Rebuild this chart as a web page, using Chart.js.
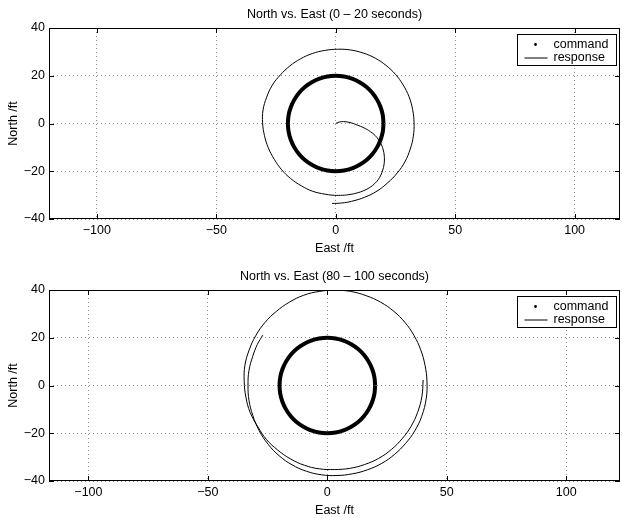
<!DOCTYPE html>
<html lang="en">
<head>
<meta charset="UTF-8">
<title>North vs. East</title>
<script src="https://cdn.jsdelivr.net/npm/chart.js@4.4.1/dist/chart.umd.min.js"></script>
<style>
    body { margin: 0; background: #fff; width: 622px; height: 518px; position: relative; overflow: hidden; }
    canvas { position: absolute; left: 0; }
    #topPlot { top: 0; }
    #bottomPlot { top: 262px; }
</style>
</head>
<body>
<canvas id="topPlot" width="622" height="256"></canvas>
<canvas id="bottomPlot" width="622" height="256"></canvas>
<script>
// tick labels
const xTicks = [-100, -50, 0, 50, 100];
const yTicks = [-40, -20, 0, 20, 40];

// command: the 20 ft circle (same in both plots)
const commandEast = [20, 19.7, 18.8, 17.3, 15.3, 12.9, 10, 6.8, 3.5, 0, -3.5, -6.8, -10, -12.9, -15.3, -17.3, -18.8, -19.7,
    -20, -19.7, -18.8, -17.3, -15.3, -12.9, -10, -6.8, -3.5, 0, 3.5, 6.8, 10, 12.9, 15.3, 17.3, 18.8, 19.7, 20];
const commandNorth = [0, 3.5, 6.8, 10, 12.9, 15.3, 17.3, 18.8, 19.7, 20, 19.7, 18.8, 17.3, 15.3, 12.9, 10, 6.8, 3.5,
    0, -3.5, -6.8, -10, -12.9, -15.3, -17.3, -18.8, -19.7, -20, -19.7, -18.8, -17.3, -15.3, -12.9, -10, -6.8, -3.5, 0];

// response, 0 - 20 s
const resp1East = [0, 1.5, 3.3, 6, 8.9, 11.8, 14.5, 16.5, 18, 19.2, 19.9, 20.3, 20.4, 20.2, 19.7, 18.9, 17.8, 16.3, 14.3, 11.8,
    8.9, 5.5, 2, -1.5, -4.5, -9.6, -14.4, -18.8, -22.6, -25.7, -28.2, -29.8, -30.6, -30.4, -28.9, -26.5, -23.1, -19.2, -14.7, -9.8,
    -4.6, 0.8, 6.2, 11.5, 16.5, 21.1, 25, 28.2, 30.7, 32.2, 32.8, 32.5, 31.2, 29, 25.8, 21.8, 17.3, 12.1, 6.6, 2.5, -1.5];
const resp1North = [0, 0.6, 0.8, 0.4, -0.6, -1.8, -3.4, -5, -6.9, -9, -11.1, -13.2, -15.3, -17.4, -19.5, -21.6, -23.5, -25.2, -26.8, -28.1,
    -29.1, -29.8, -30.1, -30, -29.6, -28.4, -26.1, -23.1, -19.4, -15, -10.2, -5.1, 0.3, 5.7, 11, 16.1, 20.4, 24.1, 27.1, 29.3,
    30.6, 31.1, 30.8, 29.5, 27.4, 24.3, 20.6, 16.2, 11.2, 5.8, 0.3, -5.3, -10.7, -16, -20.7, -24.8, -28.3, -30.9, -32.6, -33.3, -33.5];

// response, 80 - 100 s
const resp2East = [40.1, 39.6, 37.8, 35, 31.3, 26.8, 21.5, 15.6, 9.4, 3, -3.4, -9.6, -15.5, -20.8, -25.5, -29, -32.3, -34.1, -34.8, -34.5,
    -32.7, -30, -26.1, -21.4, -15.9, -9.9, -3.4, 3.2, 9.8, 16.3, 22.3, 27.8, 32.5, 36.3, 39.1, 40.9, 41.7, 41.4, 39.5, 36.6,
    32.8, 28.2, 22.8, 16.8, 10.5, 4, -2.5, -8.8, -14.8, -20.2, -24.8, -28.6, -31.2, -32.8, -33.2, -32.8, -31.2, -29.3, -27];
const resp2North = [2.3, -4.5, -11.2, -17.2, -22.3, -26.8, -30.5, -33.1, -34.7, -35.2, -34.9, -33.4, -30.7, -27, -22.6, -17.4, -11.3, -4.8, 1.8, 8.5,
    14.9, 20.8, 26.4, 31, 34.9, 37.8, 39.4, 39.9, 39.4, 37.6, 34.9, 31.1, 26.4, 20.9, 14.9, 8.4, 1.8, -5.4, -12.9, -19,
    -24.2, -28.8, -32.6, -35.3, -37, -37.7, -37.4, -35.9, -33.2, -29.4, -24.6, -18.8, -12.5, -6.2, 0, 6.3, 12.3, 17.2, 21.1];

const FONT = { family: '"Liberation Sans", Arial, Helvetica, sans-serif', size: 12.5, weight: 'normal' };
const minus = v => String(v).replace('-', '\u2212');
const toPoints = (xs, ys) => xs.map((x, i) => ({ x: x, y: ys[i] }));

// matlab style box: frame, inward ticks and the legend inside the axes
const boxPlugin = {
    id: 'matlabBox',
    afterDraw(chart) {
        const { ctx, chartArea: a, scales } = chart;
        ctx.save();
        ctx.strokeStyle = '#000';
        ctx.lineWidth = 1;
        ctx.strokeRect(a.left + 0.5, a.top + 0.5, a.width - 1, a.height - 1);
        ctx.beginPath();
        xTicks.forEach(v => {
            const px = Math.round(scales.x.getPixelForValue(v)) + 0.5;
            ctx.moveTo(px, a.bottom); ctx.lineTo(px, a.bottom - 5);
            ctx.moveTo(px, a.top); ctx.lineTo(px, a.top + 5);
        });
        yTicks.forEach(v => {
            const py = Math.round(scales.y.getPixelForValue(v)) + 0.5;
            ctx.moveTo(a.left, py); ctx.lineTo(a.left + 5, py);
            ctx.moveTo(a.right, py); ctx.lineTo(a.right - 5, py);
        });
        ctx.stroke();

        // legend
        const bx = Math.round(a.right - 103) + 0.5, by = Math.round(a.top + 6) + 0.5;
        ctx.fillStyle = '#fff';
        ctx.fillRect(bx, by, 99, 31);
        ctx.strokeRect(bx, by, 99, 31);
        const ds = chart.data.datasets;
        ctx.fillStyle = '#000';
        ctx.beginPath();
        ctx.arc(bx + 18, by + 10, 1.4, 0, Math.PI * 2);
        ctx.fill();
        ctx.beginPath();
        ctx.moveTo(bx + 7, by + 23.5);
        ctx.lineTo(bx + 30, by + 23.5);
        ctx.stroke();
        ctx.font = FONT.size + 'px ' + FONT.family;
        ctx.textBaseline = 'middle';
        ctx.textAlign = 'left';
        ctx.fillText(ds[0].label, bx + 36, by + 10);
        ctx.fillText(ds[1].label, bx + 36, by + 23.5);
        ctx.restore();
    }
};

function makePlot(id, title, respEast, respNorth, xMin, xMax) {
    new Chart(document.getElementById(id), {
        type: 'scatter',
        data: {
            datasets: [{
                label: 'command',
                data: toPoints(commandEast, commandNorth),
                showLine: true,
                borderColor: '#000',
                borderWidth: 4,
                pointRadius: 0,
                tension: 0.4
            }, {
                label: 'response',
                data: toPoints(respEast, respNorth),
                showLine: true,
                borderColor: '#000',
                borderWidth: 1,
                pointRadius: 0,
                tension: 0.4
            }]
        },
        options: {
            responsive: false,
            animation: false,
            layout: { padding: { left: 0, right: 2, top: 0, bottom: 0 } },
            plugins: {
                legend: { display: false },
                tooltip: { enabled: false },
                title: {
                    display: true,
                    text: title,
                    fullSize: false,
                    color: '#000',
                    font: FONT,
                    padding: { top: 7, bottom: 6 }
                }
            },
            scales: {
                x: {
                    type: 'linear',
                    min: xMin,
                    max: xMax,
                    afterFit: s => { s.height = 37; },
                    afterBuildTicks: s => { s.ticks = xTicks.map(v => ({ value: v })); },
                    grid: { color: 'rgba(0,0,0,0.45)', lineWidth: 1, drawTicks: false },
                    border: { display: false, dash: [1, 3] },
                    ticks: { color: '#000', font: FONT, padding: 4, maxRotation: 0, autoSkip: false, callback: minus },
                    title: { display: true, text: 'East /ft', color: '#000', font: FONT, padding: { top: 2, bottom: 0 } }
                },
                y: {
                    type: 'linear',
                    min: -40,
                    max: 40,
                    afterFit: s => { s.width = 49; },
                    afterBuildTicks: s => { s.ticks = yTicks.map(v => ({ value: v })); },
                    grid: { color: 'rgba(0,0,0,0.45)', lineWidth: 1, drawTicks: false },
                    border: { display: false, dash: [1, 3] },
                    ticks: { color: '#000', font: FONT, padding: 4, autoSkip: false, callback: minus },
                    title: { display: true, text: 'North /ft', color: '#000', font: FONT, padding: { top: 6, bottom: 0 } }
                }
            }
        },
        plugins: [boxPlugin]
    });
}

makePlot('topPlot', 'North vs. East (0 \u2013 20 seconds)', resp1East, resp1North, -120, 119);
makePlot('bottomPlot', 'North vs. East (80 \u2013 100 seconds)', resp2East, resp2North, -116.5, 122.5);
</script>
</body>
</html>
